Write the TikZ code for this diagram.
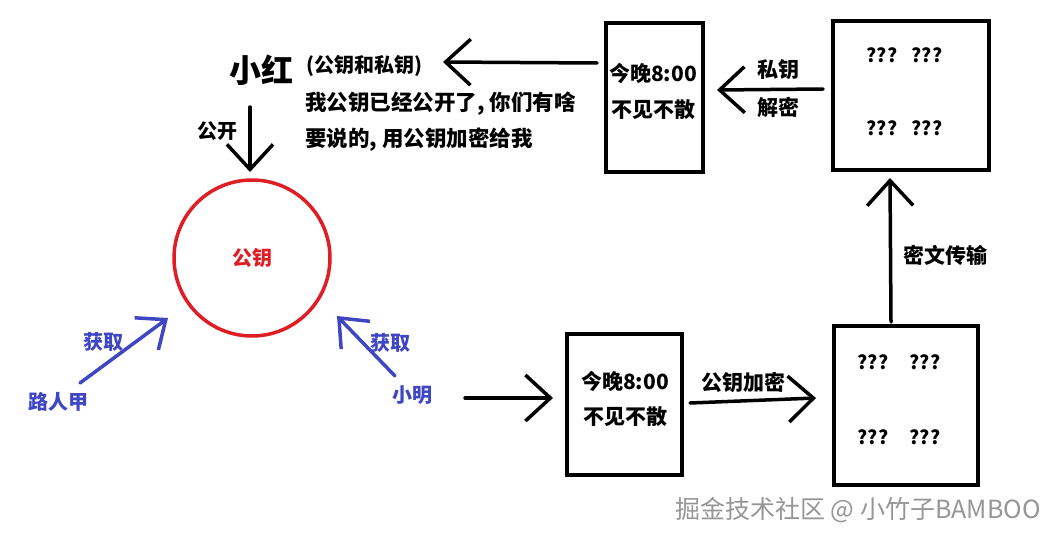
\documentclass[tikz,border=0pt]{standalone}
\usepackage{fontspec}
\setmainfont{Noto Sans CJK SC}
\usetikzlibrary{arrows.meta}
\definecolor{kred}{RGB}{222,30,36}
\definecolor{kblue}{RGB}{62,70,196}
\definecolor{wmgray}{RGB}{150,150,150}
\tikzset{
  txt/.style={inner sep=0pt, font=\bfseries\fontsize{21}{36}\selectfont},
  qtxt/.style={inner sep=0pt, font=\bfseries\fontsize{19}{20}\selectfont},
  bluetxt/.style={inner sep=0pt, text=kblue, font=\bfseries\fontsize{20}{22}\selectfont},
  boxnode/.style={draw=black, line width=4.5pt, inner sep=0pt},
  bigarr/.style={draw=black, line width=3.5pt, line cap=round,
    -{Straight Barb[length=25pt,width=46pt,line width=3.5pt]}},
  bluearr/.style={draw=kblue, line width=3.5pt, line cap=round,
    -{Straight Barb[length=24pt,width=40pt,line width=3.5pt]}},
}
\begin{document}
\begin{tikzpicture}[x=1pt,y=-1pt]
\useasboundingbox[fill=white] (0,0) rectangle (1062,543);

% boxes
\node[boxnode, minimum width=97pt, minimum height=149pt] (tl) at (654.5,97.5) {};
\node[boxnode, minimum width=156pt, minimum height=149pt] (tr) at (911,95.5) {};
\node[boxnode, minimum width=115pt, minimum height=141pt] (bl) at (624.5,404.5) {};
\node[boxnode, minimum width=144pt, minimum height=159pt] (br) at (906,405.5) {};

% circle
\node[draw=kred, line width=3.5pt, circle, minimum size=156pt, inner sep=0pt] (key) at (252,258) {};
\node[inner sep=0pt, text=kred, font=\bfseries\fontsize{20}{22}\selectfont] (keylbl) at (252,258) {公钥};

% texts
\node[inner sep=0pt, font=\bfseries\fontsize{32}{34}\selectfont] (xh) at (261,70) {小红};
\node[txt, font=\bfseries\fontsize{20}{22}\selectfont] (pp) at (364,66) {(公钥和私钥)};
\node[txt, align=left, anchor=west, font=\bfseries\fontsize{21.5}{36}\selectfont] (msg) at (305,122) {我公钥已经公开了, 你们有啥\\要说的, 用公钥加密给我};
\node[txt, font=\bfseries\fontsize{20}{22}\selectfont] (gk) at (217,131) {公开};

\node[txt] (tl1) at (653,73) {今晚8:00};
\node[txt] (tl2) at (653,110) {不见不散};
\node[txt] (sy) at (778,70) {私钥};
\node[txt] (jm) at (778,107) {解密};

\node[qtxt] (q1) at (882,55) {???};
\node[qtxt] (q2) at (927,55) {???};
\node[qtxt] (q3) at (882,128) {???};
\node[qtxt] (q4) at (927,128) {???};

\node[txt] (bl1) at (625,381) {今晚8:00};
\node[txt] (bl2) at (625,417) {不见不散};
\node[txt] (gyjm) at (743,382) {公钥加密};

\node[qtxt] (q5) at (873,362) {???};
\node[qtxt] (q6) at (925,362) {???};
\node[qtxt] (q7) at (873,437) {???};
\node[qtxt] (q8) at (925,437) {???};

\node[txt] (mw) at (945,255) {密文传输};

\node[bluetxt] (hq1) at (103,342) {获取};
\node[bluetxt] (lrj) at (58,402) {路人甲};
\node[bluetxt] (hq2) at (390,343) {获取};
\node[bluetxt] (xm) at (412,395) {小明};

\node[inner sep=0pt, text=wmgray, font=\fontsize{25}{27}\selectfont] (wm) at (858,510) {掘金技术社区 @ 小竹子BAMBOO};

% connector end points
\coordinate (a1s) at (597,63);
\coordinate (a1e) at (443,62);
\coordinate (a2s) at (823,89);
\coordinate (a2e) at (717,90);
\coordinate (a3s) at (250,107);
\coordinate (a3e) at (250,172);
\coordinate (a4s) at (80,383);
\coordinate (a4e) at (168,318);
\coordinate (a5s) at (395,376);
\coordinate (a5e) at (337,316);
\coordinate (a6s) at (465,398);
\coordinate (a6e) at (553,398);
\coordinate (a7s) at (690,403);
\coordinate (a7e) at (816,398);
\coordinate (a8s) at (891,322);
\coordinate (a8e) at (890,178);

% connectors
\draw[bigarr] (a1s) -- (a1e);
\draw[bigarr] (a2s) -- (a2e);
\draw[bigarr] (a3s) -- (a3e);
\draw[bluearr] (a4s) -- (a4e);
\draw[bluearr] (a5s) -- (a5e);
\draw[bigarr] (a6s) -- (a6e);
\draw[bigarr] (a7s) -- (a7e);
\draw[bigarr] (a8s) -- (a8e);
\end{tikzpicture}
\end{document}
